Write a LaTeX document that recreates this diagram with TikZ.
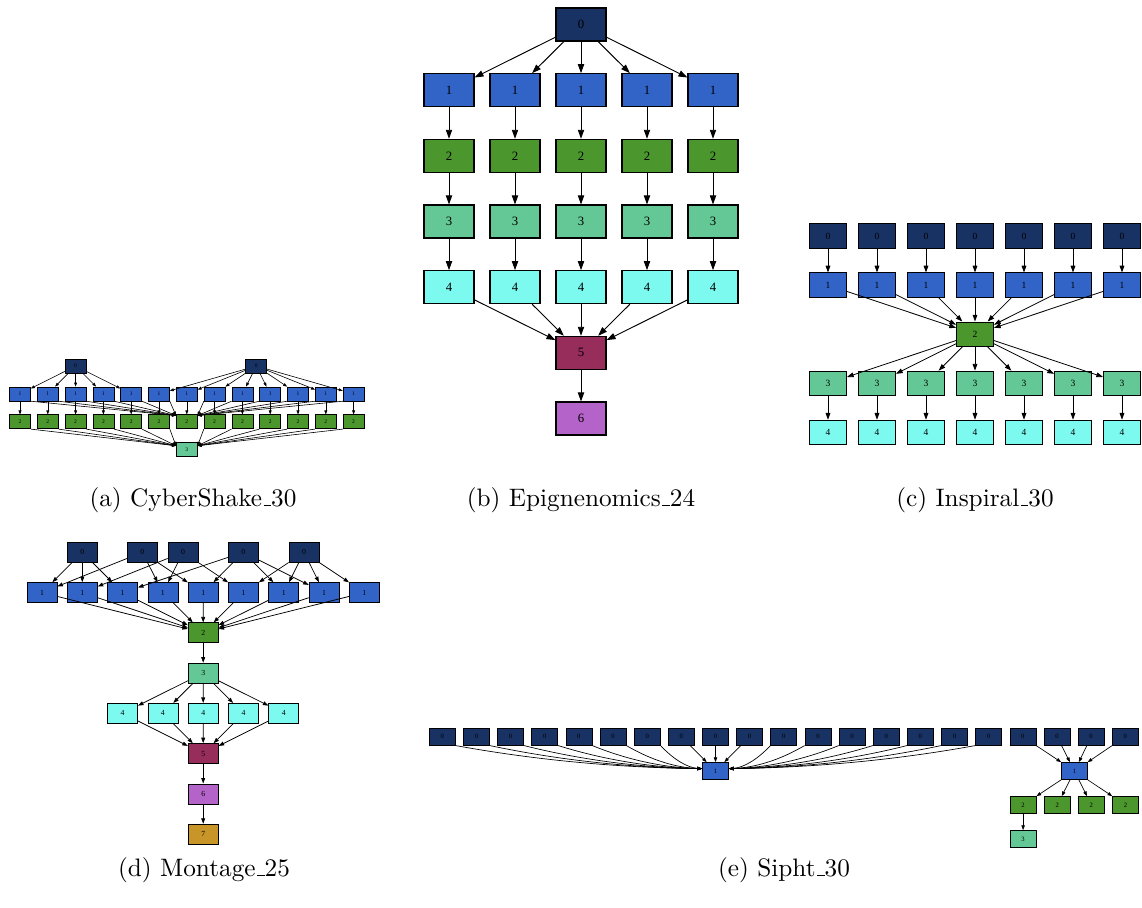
\documentclass[tikz,border=0pt]{standalone}
\usepackage{fontspec}
\newfontfamily\tnr{Liberation Serif}
\usetikzlibrary{arrows.meta}
\newcommand\lowbar{\kern.06em\rule{.3em}{.4pt}}
\definecolor{c0}{RGB}{25,50,100}
\definecolor{c1}{RGB}{50,100,200}
\definecolor{c2}{RGB}{75,150,45}
\definecolor{c3}{RGB}{100,200,150}
\definecolor{c4}{RGB}{125,250,240}
\definecolor{c5}{RGB}{150,45,90}
\definecolor{c6}{RGB}{180,100,200}
\definecolor{c7}{RGB}{200,150,40}
\tikzset{
  box/.style={draw=black, rectangle, inner sep=0pt, text=black},
  k0/.style={fill=c0}, k1/.style={fill=c1}, k2/.style={fill=c2}, k3/.style={fill=c3},
  k4/.style={fill=c4}, k5/.style={fill=c5}, k6/.style={fill=c6}, k7/.style={fill=c7},
  nEp/.style={box, minimum width=20pt, minimum height=13.2pt, line width=0.42pt, font=\tnr\fontsize{5.1}{6}\selectfont},
  eEp/.style={line width=0.38pt, -{Triangle[length=3.6pt,width=2.5pt]}},
  nIns/.style={box, minimum width=14.8pt, minimum height=9.8pt, line width=0.35pt, font=\tnr\fontsize{3.8}{4.5}\selectfont},
  eIns/.style={line width=0.32pt, -{Triangle[length=2.7pt,width=1.9pt]}},
  nCs/.style={box, minimum width=8.4pt, minimum height=5.6pt, line width=0.25pt, font=\tnr\fontsize{2.2}{2.6}\selectfont},
  eCs/.style={line width=0.24pt, -{Triangle[length=1.6pt,width=1.15pt]}},
  nMo/.style={box, minimum width=12pt, minimum height=8pt, line width=0.3pt, font=\tnr\fontsize{3.1}{3.7}\selectfont},
  eMo/.style={line width=0.3pt, -{Triangle[length=2.2pt,width=1.55pt]}},
  nSi/.style={box, minimum width=10.4pt, minimum height=6.8pt, line width=0.28pt, font=\tnr\fontsize{2.65}{3.2}\selectfont},
  eSi/.style={line width=0.27pt, -{Triangle[length=1.9pt,width=1.35pt]}},
  captxt/.style={anchor=base, inner sep=0pt, font=\fontsize{10.1}{12}\selectfont}
}
\begin{document}
\begin{tikzpicture}[x=0.4pt,y=-0.4pt]
\useasboundingbox (0,0) rectangle (1142,908);

% ---------- (b) Epigenomics ----------
\node[nEp,k0] (e0) at (581,24.5) {0};
\foreach \i/\x in {1/449,2/515,3/581,4/647,5/713}{
  \node[nEp,k1] (e1-\i) at (\x,90.2) {1};
  \node[nEp,k2] (e2-\i) at (\x,155.8) {2};
  \node[nEp,k3] (e3-\i) at (\x,221.5) {3};
  \node[nEp,k4] (e4-\i) at (\x,287.2) {4};
}
\node[nEp,k5] (e5) at (581,352.8) {5};
\node[nEp,k6] (e6) at (581,418.5) {6};
\foreach \i in {1,...,5}{
  \draw[eEp] (e0) -- (e1-\i);
  \draw[eEp] (e1-\i) -- (e2-\i);
  \draw[eEp] (e2-\i) -- (e3-\i);
  \draw[eEp] (e3-\i) -- (e4-\i);
  \draw[eEp] (e4-\i) -- (e5);
}
\draw[eEp] (e5) -- (e6);

% ---------- (c) Inspiral ----------
\foreach \i in {0,...,6}{
  \pgfmathsetmacro\x{828+49*\i}
  \node[nIns,k0] (i0-\i) at (\x,236) {0};
  \node[nIns,k1] (i1-\i) at (\x,285.1) {1};
  \node[nIns,k3] (i3-\i) at (\x,383.3) {3};
  \node[nIns,k4] (i4-\i) at (\x,432.4) {4};
}
\node[nIns,k2] (i2) at (975,334.2) {2};
\foreach \i in {0,...,6}{
  \draw[eIns] (i0-\i) -- (i1-\i);
  \draw[eIns] (i1-\i) -- (i2);
  \draw[eIns] (i2) -- (i3-\i);
  \draw[eIns] (i3-\i) -- (i4-\i);
}

% ---------- (a) CyberShake ----------
\node[nCs,k0] (ca) at (75.6,366) {0};
\node[nCs,k0] (cb) at (256.3,366) {0};
\foreach \i in {0,...,12}{
  \pgfmathsetmacro\x{20+27.8*\i}
  \node[nCs,k1] (c1-\i) at (\x,393.9) {1};
  \node[nCs,k2] (c2-\i) at (\x,421.8) {2};
}
\node[nCs,k3] (c3) at (186.8,449.7) {3};
\foreach \i in {0,...,4} \draw[eCs] (ca) -- (c1-\i);
\foreach \i in {5,...,12} \draw[eCs] (cb) -- (c1-\i);
\foreach \i in {0,...,12} \draw[eCs] (c1-\i) -- (c2-\i);
\foreach \i in {0,...,5}{
  \draw[eCs] (c1-\i.south east) -- (c2-6.150);
  \draw[eCs] (c2-\i.south east) -- (c3.160);
}
\foreach \i in {7,...,12}{
  \draw[eCs] (c1-\i.south west) -- (c2-6.30);
  \draw[eCs] (c2-\i.south west) -- (c3.20);
}

% ---------- (d) Montage ----------
\node[nMo,k0] (ma) at (82.3,552.3) {0};
\node[nMo,k0] (mb) at (142.3,552.3) {0};
\node[nMo,k0] (mc) at (183,552.3) {0};
\node[nMo,k0] (md) at (243.3,552.3) {0};
\node[nMo,k0] (me) at (304,552.3) {0};
\foreach \i in {1,...,9}{
  \pgfmathsetmacro\x{42+40.3*(\i-1)}
  \node[nMo,k1] (m1-\i) at (\x,592.6) {1};
}
\node[nMo,k2] (m2) at (203.2,632.8) {2};
\node[nMo,k3] (m3) at (203.2,673.1) {3};
\foreach \i in {1,...,5}{
  \pgfmathsetmacro\x{122.6+40.3*(\i-1)}
  \node[nMo,k4] (m4-\i) at (\x,713.3) {4};
}
\node[nMo,k5] (m5) at (203.2,753.6) {5};
\node[nMo,k6] (m6) at (203.2,793.9) {6};
\node[nMo,k7] (m7) at (203.2,834.2) {7};
\foreach \s/\t in {ma/1,ma/2,ma/3,mb/1,mb/4,mb/5,mc/2,mc/4,mc/6,md/3,md/5,md/7,md/8,me/6,me/7,me/8,me/9}
  \draw[eMo] (\s) -- (m1-\t);
\foreach \i in {1,...,9} \draw[eMo] (m1-\i) -- (m2);
\draw[eMo] (m2) -- (m3);
\foreach \i in {1,...,5}{
  \draw[eMo] (m3) -- (m4-\i);
  \draw[eMo] (m4-\i) -- (m5);
}
\draw[eMo] (m5) -- (m6);
\draw[eMo] (m6) -- (m7);

% ---------- (e) Sipht ----------
\foreach \i in {0,...,20}{
  \pgfmathsetmacro\x{442.3+34.15*\i}
  \node[nSi,k0] (s0-\i) at (\x,736.7) {0};
}
\node[nSi,k1] (sl) at (715.5,771) {1};
\node[nSi,k1] (sr) at (1074.5,771) {1};
\foreach \i in {1,...,4}{
  \pgfmathsetmacro\x{1023.1+34.15*(\i-1)}
  \node[nSi,k2] (s2-\i) at (\x,805) {2};
  \draw[eSi] (sr) -- (s2-\i);
}
\node[nSi,k3] (s3) at (1023.1,839) {3};
\draw[eSi] (s2-1) -- (s3);
\foreach \i in {0,...,6}{
  \pgfmathsetmacro\d{(689.5-(442.3+34.15*\i))/3}
  \draw[eSi] (s0-\i.south east) .. controls +(\d,15) and +(-\d,-1) .. (sl.170);
}
\foreach \i in {7,8,9} \draw[eSi] (s0-\i) -- (sl);
\foreach \i in {10,...,16}{
  \pgfmathsetmacro\d{((442.3+34.15*\i)-741.5)/3}
  \draw[eSi] (s0-\i.south west) .. controls +(-\d,15) and +(\d,-1) .. (sl.10);
}
\foreach \i in {17,...,20} \draw[eSi] (s0-\i) -- (sr);

% ---------- captions ----------
\node[captxt] (capa) at (193,506) {(a) CyberShake\lowbar30};
\node[captxt] (capb) at (581,506) {(b) Epignenomics\lowbar24};
\node[captxt] (capc) at (975,506) {(c) Inspiral\lowbar30};
\node[captxt] (capd) at (204,876) {(d) Montage\lowbar25};
\node[captxt] (cape) at (784,876) {(e) Sipht\lowbar30};
\end{tikzpicture}
\end{document}
